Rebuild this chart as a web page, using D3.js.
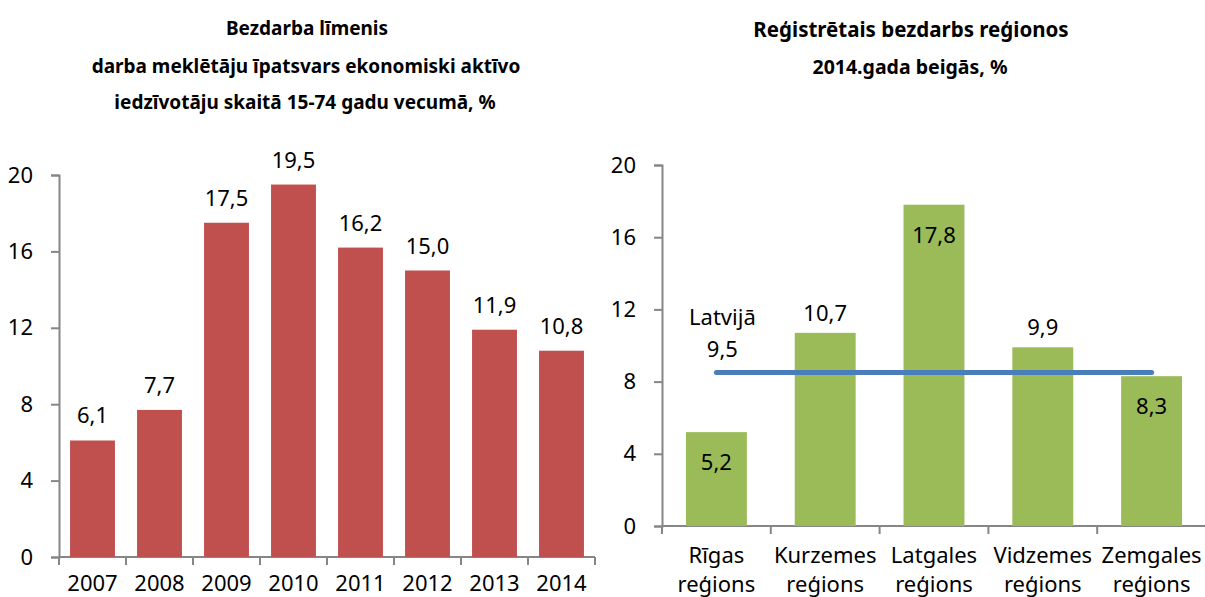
<!DOCTYPE html>
<html lang="lv">
<head>
<meta charset="UTF-8">
<title>Bezdarbs</title>
<script src="https://d3js.org/d3.v7.min.js"></script>
<style>
  body { margin: 0; background: #fff; }
  svg text { font-family: "Noto Sans", "Open Sans", sans-serif; fill: #000; }
  .axis path, .axis line { stroke: #868686; stroke-width: 2; }
</style>
</head>
<body>
<svg id="chart" width="1205" height="597"></svg>
<script>
// left chart data
const years = ["2007", "2008", "2009", "2010", "2011", "2012", "2013", "2014"];
const rateValues = [6.1, 7.7, 17.5, 19.5, 16.2, 15.0, 11.9, 10.8];

// right chart data
const regions = [["Rīgas", "reģions"], ["Kurzemes", "reģions"], ["Latgales", "reģions"], ["Vidzemes", "reģions"], ["Zemgales", "reģions"]];
const regionValues = [5.2, 10.7, 17.8, 9.9, 8.3];
const latviaLine = [8.5, 8.5, 8.5, 8.5, 8.5];
const latviaLabel = ["Latvijā", "9,5"];
const yTicks = [0, 4, 8, 12, 16, 20];

const fmt = v => d3.format(".1f")(v).replace(".", ",");
const svg = d3.select("#chart");
const FS = 22;

// titles
function title(x, y, size, txt) {
  svg.append("text").attr("x", x).attr("y", y).attr("text-anchor", "middle")
    .attr("font-size", size).attr("font-weight", "bold").text(txt);
}
title(307, 35, 19, "Bezdarba līmenis");
title(306, 73, 19, "darba meklētāju īpatsvars ekonomiski aktīvo");
title(305, 109, 19, "iedzīvotāju skaitā 15-74 gadu vecumā, %");
title(911, 37, 20.5, "Reģistrētais bezdarbs reģionos");
title(910, 74, 19.5, "2014.gada beigās, %");

// ---- left chart ----
const x1 = d3.scaleBand().domain(years).range([59, 595]).paddingInner(0.33).paddingOuter(0.165);
const y1 = d3.scaleLinear().domain([0, 20]).range([557, 175]);

svg.append("g").attr("class", "axis").attr("transform", "translate(59,0)")
  .call(d3.axisLeft(y1).tickValues(yTicks).tickSize(8).tickPadding(18))
  .call(g => g.selectAll("text").attr("font-size", FS));
const xAxis1 = svg.append("g").attr("class", "axis").attr("transform", "translate(0,557)");
xAxis1.append("line").attr("x1", 59).attr("x2", 595);
xAxis1.selectAll(".tk").data(d3.range(years.length + 1)).enter().append("line")
  .attr("x1", i => 59 + i * x1.step()).attr("x2", i => 59 + i * x1.step())
  .attr("y1", 0).attr("y2", 8);
xAxis1.selectAll("text").data(years).enter().append("text")
  .attr("x", d => x1(d) + x1.bandwidth() / 2).attr("y", 34)
  .attr("text-anchor", "middle").attr("font-size", FS).text(d => d);

svg.selectAll(".bar1").data(rateValues).enter().append("rect")
  .attr("x", (d, i) => x1(years[i])).attr("width", x1.bandwidth())
  .attr("y", d => y1(d)).attr("height", d => y1(0) - y1(d))
  .attr("fill", "#c0504d");
svg.selectAll(".lab1").data(rateValues).enter().append("text")
  .attr("x", (d, i) => x1(years[i]) + x1.bandwidth() / 2).attr("y", d => y1(d) - 17)
  .attr("text-anchor", "middle").attr("font-size", FS).text(fmt);

// ---- right chart ----
const regionKeys = regions.map(r => r[0]);
const x2 = d3.scaleBand().domain(regionKeys).range([662, 1206]).paddingInner(0.44).paddingOuter(0.22);
const y2 = d3.scaleLinear().domain([0, 20]).range([526, 165]);

svg.append("g").attr("class", "axis").attr("transform", "translate(662,0)")
  .call(d3.axisLeft(y2).tickValues(yTicks).tickSize(8).tickPadding(18))
  .call(g => g.selectAll("text").attr("font-size", FS));
const xAxis2 = svg.append("g").attr("class", "axis").attr("transform", "translate(0,526)");
xAxis2.append("line").attr("x1", 662).attr("x2", 1206);
xAxis2.selectAll(".tk").data(d3.range(regions.length + 1)).enter().append("line")
  .attr("x1", i => 662 + i * x2.step()).attr("x2", i => 662 + i * x2.step())
  .attr("y1", 0).attr("y2", 8);
const xl2 = xAxis2.selectAll(".xl").data(regions).enter().append("text")
  .attr("x", d => x2(d[0]) + x2.bandwidth() / 2).attr("y", 37)
  .attr("text-anchor", "middle").attr("font-size", FS);
xl2.append("tspan").text(d => d[0]);
xl2.append("tspan").attr("x", d => x2(d[0]) + x2.bandwidth() / 2).attr("dy", 29).text(d => d[1]);

svg.selectAll(".bar2").data(regionValues).enter().append("rect")
  .attr("x", (d, i) => x2(regionKeys[i])).attr("width", x2.bandwidth())
  .attr("y", d => y2(d)).attr("height", d => y2(0) - y2(d))
  .attr("fill", "#9bbb59");

// line series
const line = d3.line().x((d, i) => x2(regionKeys[i]) + x2.bandwidth() / 2).y(d => y2(d));
svg.append("path").datum(latviaLine).attr("d", line)
  .attr("fill", "none").attr("stroke", "#4a7ebb").attr("stroke-width", 5).attr("stroke-linecap", "round");

// labels: inside for 5.2, 17.8, 8.3, above for others
const inside = [true, false, true, false, true];
svg.selectAll(".lab2").data(regionValues).enter().append("text")
  .attr("x", (d, i) => x2(regionKeys[i]) + x2.bandwidth() / 2)
  .attr("y", (d, i) => inside[i] ? y2(d) + 38 : y2(d) - 12)
  .attr("text-anchor", "middle").attr("font-size", FS).text(fmt);

const lx = x2(regionKeys[0]) + x2.bandwidth() / 2 + 6;
svg.append("text").attr("x", lx).attr("y", 325).attr("text-anchor", "middle")
  .attr("font-size", FS).text(latviaLabel[0]);
svg.append("text").attr("x", lx).attr("y", 357).attr("text-anchor", "middle")
  .attr("font-size", FS).text(latviaLabel[1]);
</script>
</body>
</html>
